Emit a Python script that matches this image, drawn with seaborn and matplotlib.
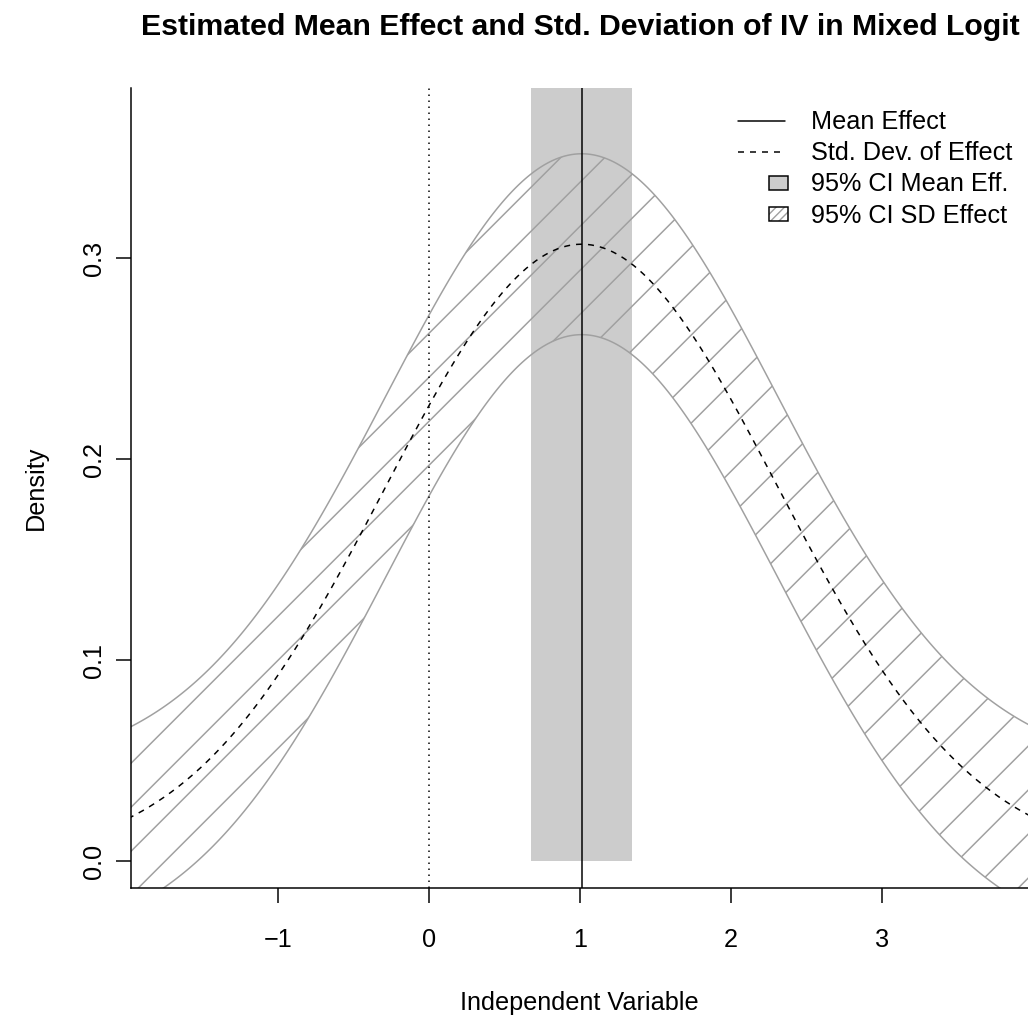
import numpy as np
import pandas as pd
import matplotlib
matplotlib.use("Agg")
import matplotlib.pyplot as plt
import seaborn as sns
from matplotlib.patches import Polygon, Rectangle
from matplotlib.lines import Line2D

# ---------------- data ----------------
mean_effect = 1.011                 # estimated mean effect
mean_ci = [0.677, 1.345]            # 95% CI of the mean effect
sd_effect = 1.30                    # estimated std. deviation of the effect
sd_ci_offset = [-0.045, 0.045]      # band (95% CI SD effect) around the density
x_span = [-2.6, 4.6]                # range over which the curves are drawn
x_limits = [-1.977, 3.970]
y_limits = [-0.01343, 0.3846]
x_ticks = [-1, 0, 1, 2, 3]
x_tick_labels = ["\u22121", "0", "1", "2", "3"]
y_ticks = [0.0, 0.1, 0.2, 0.3]
y_tick_labels = ["0.0", "0.1", "0.2", "0.3"]
legend_labels = ["Mean Effect", "Std. Dev. of Effect", "95% CI Mean Eff.", "95% CI SD Effect"]
title_text = "Estimated Mean Effect and Std. Deviation of IV in Mixed Logit"
x_label = "Independent Variable"
y_label = "Density"

# ---------------- styling / layout ----------------
W, H, DPI = 1028, 1019, 100
PX = 72.0 / DPI                     # points per pixel
LW = 1.5 * PX
FS = 25.3 * PX
GRAY = "#A0A0A0"
FILL = "#CCCCCC"

sns.set_theme(style="white")
plt.rcParams["font.family"] = ["Liberation Sans", "DejaVu Sans"]
plt.rcParams["hatch.linewidth"] = 1.0

fig = plt.figure(figsize=(W / DPI, H / DPI), dpi=DPI)
fig.patch.set_facecolor("white")
L, T, R, B = 131, 88, 1028, 888
ax = fig.add_axes([L / W, 1 - B / H, (R - L) / W, (B - T) / H])
ax.set_facecolor("white")
ax.set_xlim(x_limits)
ax.set_ylim(y_limits)
ax.set_autoscale_on(False)

def fx(px):
    return px / W

def fy(py):
    return 1 - py / H

grid = np.linspace(x_span[0], x_span[1], 900)
dens = np.exp(-0.5 * ((grid - mean_effect) / sd_effect) ** 2) / (sd_effect * np.sqrt(2 * np.pi))
df = pd.DataFrame({"x": grid, "density": dens,
                   "upper": dens + sd_ci_offset[1], "lower": dens + sd_ci_offset[0]})

# CI of mean effect (gray rectangle from 0 upward)
ax.add_patch(Rectangle((mean_ci[0], 0), mean_ci[1] - mean_ci[0], 10,
                       facecolor=FILL, edgecolor="none", zorder=1))

# band polygon
verts = np.column_stack([np.r_[df["x"].values, df["x"].values[::-1]],
                         np.r_[df["upper"].values, df["lower"].values[::-1]]])
band = Polygon(verts, closed=True, facecolor="none", edgecolor=GRAY, lw=LW, zorder=2)
ax.add_patch(band)

# hatch lines at 45 degrees on the device, clipped to the band
inv = ax.transData.inverted()
bx0, by0, bx1, by1 = ax.bbox.extents
spacing, phase = 44.0, 579.3
kmin = int(np.floor(((bx0 - by1) - phase) / spacing)) - 1
kmax = int(np.ceil(((bx1 - by0) - phase) / spacing)) + 1
for k in range(kmin, kmax + 1):
    c = phase + k * spacing
    xd = np.array([bx0 - 30, bx1 + 30])
    pts = inv.transform(np.column_stack([xd, xd - c]))
    ln, = ax.plot(pts[:, 0], pts[:, 1], color=GRAY, lw=LW, zorder=2)
    ln.set_clip_path(band)

# density of effect (dashed)
sns.lineplot(data=df, x="x", y="density", ax=ax, color="black", lw=LW,
             linestyle=(0, (4, 4)), zorder=4)

# mean effect and zero line
ax.axvline(mean_effect, color="black", lw=LW, zorder=5)
ax.axvline(0, color="black", lw=LW, linestyle=(0, (1, 3)), zorder=4)

# axes
ax.set_xlim(x_limits)
ax.set_ylim(y_limits)
ax.set_xlabel("")
ax.set_ylabel("")
for s in ["top", "right"]:
    ax.spines[s].set_visible(False)
for s in ["left", "bottom"]:
    ax.spines[s].set_color("black")
    ax.spines[s].set_linewidth(LW)
    ax.spines[s].set_zorder(6)
ax.set_xticks(x_ticks)
ax.set_xticklabels(x_tick_labels)
ax.set_yticks(y_ticks)
ax.set_yticklabels(y_tick_labels, rotation=90, va="center")
ax.tick_params(axis="both", which="major", bottom=True, left=True, direction="out",
               length=14.7 * PX, width=LW, color="black", labelsize=FS, labelcolor="black")
ax.tick_params(axis="x", pad=25.5 * PX)
ax.tick_params(axis="y", pad=10 * PX)
ax.grid(False)

# titles
fig.text(fx(580.5), fy(35), title_text, ha="center", va="baseline",
         fontsize=21.8, fontweight="bold", color="black")
fig.text(fx(579.5), fy(1010), x_label, ha="center", va="baseline", fontsize=FS, color="black")
fig.text(fx(48), fy(488), y_label, ha="right", va="center", rotation=90, fontsize=FS, color="black")

# legend (R style, no frame)
rows = [120.5, 151.7, 182.9, 214.1]
fig.add_artist(Line2D([fx(738), fx(785)], [fy(rows[0])] * 2, transform=fig.transFigure,
                      color="black", lw=LW))
fig.add_artist(Line2D([fx(738), fx(785)], [fy(rows[1])] * 2, transform=fig.transFigure,
                      color="black", lw=LW, linestyle=(0, (4, 4))))
fig.add_artist(Rectangle((fx(769), fy(rows[2] + 7)), 19 / W, 14 / H, transform=fig.transFigure,
                         facecolor=FILL, edgecolor="black", lw=LW))
fig.add_artist(Rectangle((fx(769), fy(rows[3] + 7)), 19 / W, 14 / H, transform=fig.transFigure,
                         facecolor="white", edgecolor=GRAY, hatch="////", lw=0))
fig.add_artist(Rectangle((fx(769), fy(rows[3] + 7)), 19 / W, 14 / H, transform=fig.transFigure,
                         facecolor="none", edgecolor="black", lw=LW))
for r, lab in zip(rows, legend_labels):
    fig.text(fx(811), fy(r + 8.5), lab, ha="left", va="baseline", fontsize=FS, color="black")

fig.savefig("out.png", dpi=DPI, facecolor="white")
